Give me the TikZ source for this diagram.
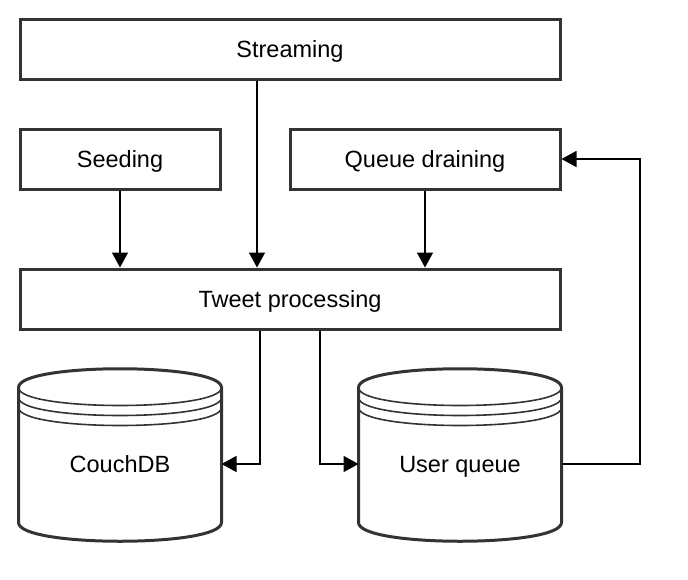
\documentclass[tikz,border=0pt]{standalone}
\usepackage{fontspec}
\setmainfont{Liberation Sans}
\usetikzlibrary{arrows.meta,calc}
\definecolor{edge}{HTML}{333333}
\tikzset{
  lbl/.style={font=\fontsize{23.5}{28}\selectfont, text height=17pt, text depth=0pt},
  box/.style={lbl, draw=edge, line width=3pt, minimum width=#1, minimum height=60pt, inner sep=0pt},
  dbbody/.style={lbl, minimum width=200pt, minimum height=150pt, inner sep=0pt, outer sep=1.5pt},
  cylout/.style={draw=edge, line width=3pt, line join=round},
  ring/.style={draw=edge, line width=1.6pt},
  arr/.style={draw=black, line width=1.5pt, -{Triangle[length=15pt,width=16pt]}}
}
\newcommand\dbcyl[1]{%
  \draw[cylout] (#1.north west) .. controls +(0,-25) and +(0,-25) .. (#1.north east)
    -- ([yshift=18pt]#1.south east) .. controls +(0,25) and +(0,25) .. ([yshift=18pt]#1.south west) -- cycle;
  \draw[ring] (#1.north west) .. controls +(0,24) and +(0,24) .. (#1.north east);
  \draw[ring] ([yshift=-10pt]#1.north west) .. controls +(0,24) and +(0,24) .. ([yshift=-10pt]#1.north east);
  \draw[ring] ([yshift=-20pt]#1.north west) .. controls +(0,24) and +(0,24) .. ([yshift=-20pt]#1.north east);
}
\begin{document}
\begin{tikzpicture}[x=1pt,y=-1pt]
\useasboundingbox (0,0) rectangle (688,579);
\node[box=540pt] (stream) at (290,49) {Streaming};
\node[box=200pt] (seed) at (120,159) {Seeding};
\node[box=270pt] (drain) at (425,159) {Queue draining};
\node[box=540pt] (tweet) at (290,299) {Tweet processing};
\node[dbbody] (couch) at (120,464) {CouchDB};
\node[dbbody] (uq) at (460,464) {User queue};
\dbcyl{couch}
\dbcyl{uq}
\draw[arr] ([xshift=-33pt]stream.south) -- ([xshift=-33pt]tweet.north);
\draw[arr] (seed.south) -- (seed.south |- tweet.north);
\draw[arr] (drain.south) -- (drain.south |- tweet.north);
\draw[arr] ([xshift=-30pt]tweet.south) |- (couch.east);
\draw[arr] ([xshift=30pt]tweet.south) |- (uq.west);
\coordinate (bend) at ($(uq.east)+(78.5,0)$);
\draw[arr] (uq.east) -- (bend) |- (drain.east);
\end{tikzpicture}
\end{document}
